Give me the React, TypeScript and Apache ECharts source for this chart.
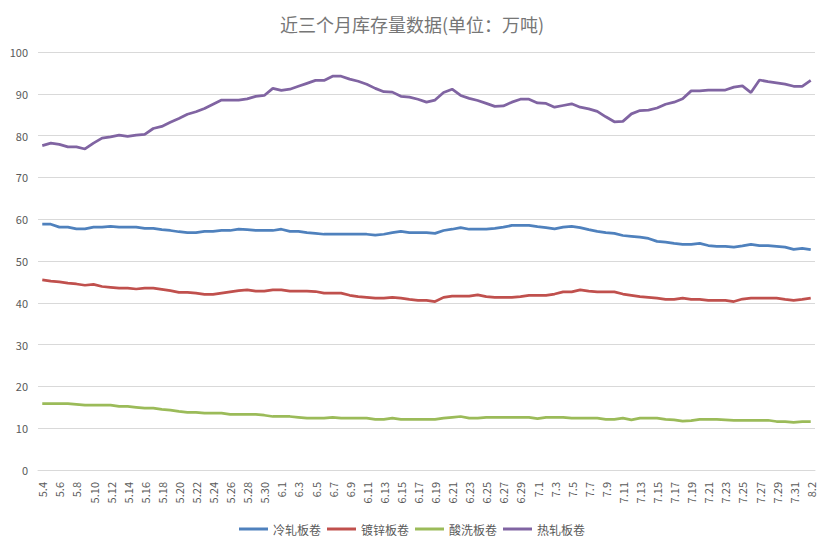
import * as echarts from 'echarts';
import React, { useEffect, useRef } from 'react';

const dates = [
  '5.4', '5.5', '5.6', '5.7', '5.8', '5.9', '5.10', '5.11', '5.12', '5.13', '5.14', '5.15', '5.16', '5.17',
  '5.18', '5.19', '5.20', '5.21', '5.22', '5.23', '5.24', '5.25', '5.26', '5.27', '5.28', '5.29', '5.30', '5.31',
  '6.1', '6.2', '6.3', '6.4', '6.5', '6.6', '6.7', '6.8', '6.9', '6.10', '6.11', '6.12', '6.13', '6.14', '6.15',
  '6.16', '6.17', '6.18', '6.19', '6.20', '6.21', '6.22', '6.23', '6.24', '6.25', '6.26', '6.27', '6.28', '6.29',
  '6.30', '7.1', '7.2', '7.3', '7.4', '7.5', '7.6', '7.7', '7.8', '7.9', '7.10', '7.11', '7.12', '7.13', '7.14',
  '7.15', '7.16', '7.17', '7.18', '7.19', '7.20', '7.21', '7.22', '7.23', '7.24', '7.25', '7.26', '7.27', '7.28',
  '7.29', '7.30', '7.31', '8.1', '8.2',
];

// 冷轧板卷
const coldRolled = [
  58.8, 58.8, 58.1, 58.1, 57.7, 57.7, 58.1, 58.1, 58.3, 58.1, 58.1, 58.1, 57.8, 57.8, 57.5, 57.3, 57.0, 56.8,
  56.8, 57.1, 57.1, 57.3, 57.3, 57.6, 57.5, 57.3, 57.3, 57.3, 57.6, 57.1, 57.1, 56.8, 56.6, 56.4, 56.4, 56.4,
  56.4, 56.4, 56.4, 56.2, 56.4, 56.8, 57.1, 56.8, 56.8, 56.8, 56.6, 57.3, 57.6, 58.0, 57.6, 57.6, 57.6, 57.8,
  58.1, 58.5, 58.5, 58.5, 58.2, 58.0, 57.7, 58.1, 58.3, 58.0, 57.5, 57.1, 56.8, 56.6, 56.1, 55.9, 55.7, 55.4,
  54.7, 54.5, 54.2, 54.0, 54.0, 54.2, 53.7, 53.5, 53.5, 53.3, 53.6, 54.0, 53.7, 53.7, 53.5, 53.3, 52.8, 53.0,
  52.7,
];

// 镀锌板卷
const galvanized = [
  45.5, 45.2, 45.0, 44.7, 44.5, 44.2, 44.4, 43.9, 43.7, 43.5, 43.5, 43.3, 43.5, 43.5, 43.2, 42.9, 42.5, 42.5,
  42.3, 42.0, 42.0, 42.3, 42.6, 42.9, 43.1, 42.8, 42.8, 43.1, 43.1, 42.8, 42.8, 42.8, 42.7, 42.3, 42.3, 42.3,
  41.8, 41.5, 41.3, 41.1, 41.1, 41.3, 41.1, 40.8, 40.6, 40.6, 40.3, 41.3, 41.6, 41.6, 41.6, 41.9, 41.5, 41.3,
  41.3, 41.3, 41.5, 41.8, 41.8, 41.8, 42.1, 42.6, 42.6, 43.1, 42.8, 42.6, 42.6, 42.6, 42.1, 41.8, 41.5, 41.3,
  41.1, 40.8, 40.8, 41.1, 40.8, 40.8, 40.6, 40.6, 40.6, 40.3, 40.9, 41.1, 41.1, 41.1, 41.1, 40.8, 40.6, 40.8,
  41.1,
];

// 酸洗板卷
const pickled = [
  15.9, 15.9, 15.9, 15.9, 15.7, 15.5, 15.5, 15.5, 15.5, 15.2, 15.2, 15.0, 14.8, 14.8, 14.5, 14.3, 14.0, 13.8,
  13.8, 13.6, 13.6, 13.6, 13.3, 13.3, 13.3, 13.3, 13.1, 12.8, 12.8, 12.8, 12.6, 12.4, 12.4, 12.4, 12.6, 12.4,
  12.4, 12.4, 12.4, 12.1, 12.1, 12.4, 12.1, 12.1, 12.1, 12.1, 12.1, 12.4, 12.6, 12.8, 12.4, 12.4, 12.6, 12.6,
  12.6, 12.6, 12.6, 12.6, 12.3, 12.6, 12.6, 12.6, 12.4, 12.4, 12.4, 12.4, 12.1, 12.1, 12.4, 12.0, 12.4, 12.4,
  12.4, 12.1, 12.0, 11.7, 11.8, 12.1, 12.1, 12.1, 12.0, 11.9, 11.9, 11.9, 11.9, 11.9, 11.6, 11.6, 11.4, 11.6,
  11.6,
];

// 热轧板卷
const hotRolled = [
  77.6, 78.2, 77.9, 77.3, 77.3, 76.8, 78.2, 79.4, 79.7, 80.1, 79.8, 80.1, 80.3, 81.7, 82.2, 83.2, 84.1, 85.1,
  85.7, 86.5, 87.5, 88.5, 88.5, 88.5, 88.8, 89.4, 89.6, 91.3, 90.8, 91.1, 91.8, 92.5, 93.2, 93.2, 94.2, 94.2,
  93.5, 93.0, 92.3, 91.3, 90.5, 90.4, 89.4, 89.2, 88.7, 88.0, 88.5, 90.3, 91.1, 89.6, 88.9, 88.4, 87.7, 87.0,
  87.1, 88.0, 88.7, 88.7, 87.8, 87.7, 86.8, 87.2, 87.6, 86.8, 86.4, 85.8, 84.5, 83.3, 83.4, 85.2, 86.0, 86.1,
  86.6, 87.5, 88.0, 88.8, 90.7, 90.7, 90.9, 90.9, 90.9, 91.6, 91.9, 90.3, 93.3, 92.9, 92.6, 92.3, 91.8, 91.8,
  93.2,
];

const seriesNames = ['冷轧板卷', '镀锌板卷', '酸洗板卷', '热轧板卷'];
const seriesColors = ['#4f81bd', '#c0504d', '#9bbb59', '#8064a2'];
const seriesValues = [coldRolled, galvanized, pickled, hotRolled];

const FONT = '"Noto Sans CJK SC", "Noto Sans", sans-serif';

export default function App(): React.ReactElement {
  const chartRef = useRef<HTMLDivElement>(null);

  useEffect(() => {
    if (!chartRef.current) {
      return;
    }
    const chart = echarts.init(chartRef.current, undefined, { renderer: 'svg' });

    chart.setOption({
      animation: false,
      backgroundColor: '#ffffff',
      textStyle: { fontFamily: FONT },
      title: {
        text: '近三个月库存量数据(单位：万吨)',
        left: 'center',
        top: 10,
        textStyle: { color: '#767676', fontSize: 18, fontWeight: 'normal', fontFamily: FONT },
      },
      legend: {
        bottom: 11,
        left: 'center',
        icon: 'rect',
        itemWidth: 29,
        itemHeight: 3,
        itemGap: 6,
        textStyle: { color: '#595959', fontSize: 12, fontFamily: FONT },
        data: seriesNames,
      },
      grid: { left: 38, right: 9, top: 52, bottom: 81 },
      xAxis: {
        type: 'category',
        data: dates,
        boundaryGap: true,
        axisLine: { lineStyle: { color: '#d9d9d9' } },
        axisTick: { show: false },
        axisLabel: {
          interval: 1,
          rotate: 90,
          margin: 12,
          color: '#595959',
          fontSize: 11,
          fontFamily: FONT,
        },
      },
      yAxis: {
        type: 'value',
        min: 0,
        max: 100,
        interval: 10,
        axisLine: { show: false },
        axisTick: { show: false },
        axisLabel: { color: '#595959', fontSize: 11, margin: 10, fontFamily: FONT },
        splitLine: { lineStyle: { color: '#d9d9d9', width: 1 } },
      },
      series: seriesNames.map((name, i) => ({
        name,
        type: 'line',
        data: seriesValues[i],
        symbol: 'none',
        lineStyle: { color: seriesColors[i], width: 2.75 },
        itemStyle: { color: seriesColors[i] },
      })),
    });

    return () => {
      chart.dispose();
    };
  }, []);

  return (
    <div
      ref={chartRef}
      style={{ position: 'absolute', left: 0, top: 0, width: 824, height: 551 }}
    />
  );
}
